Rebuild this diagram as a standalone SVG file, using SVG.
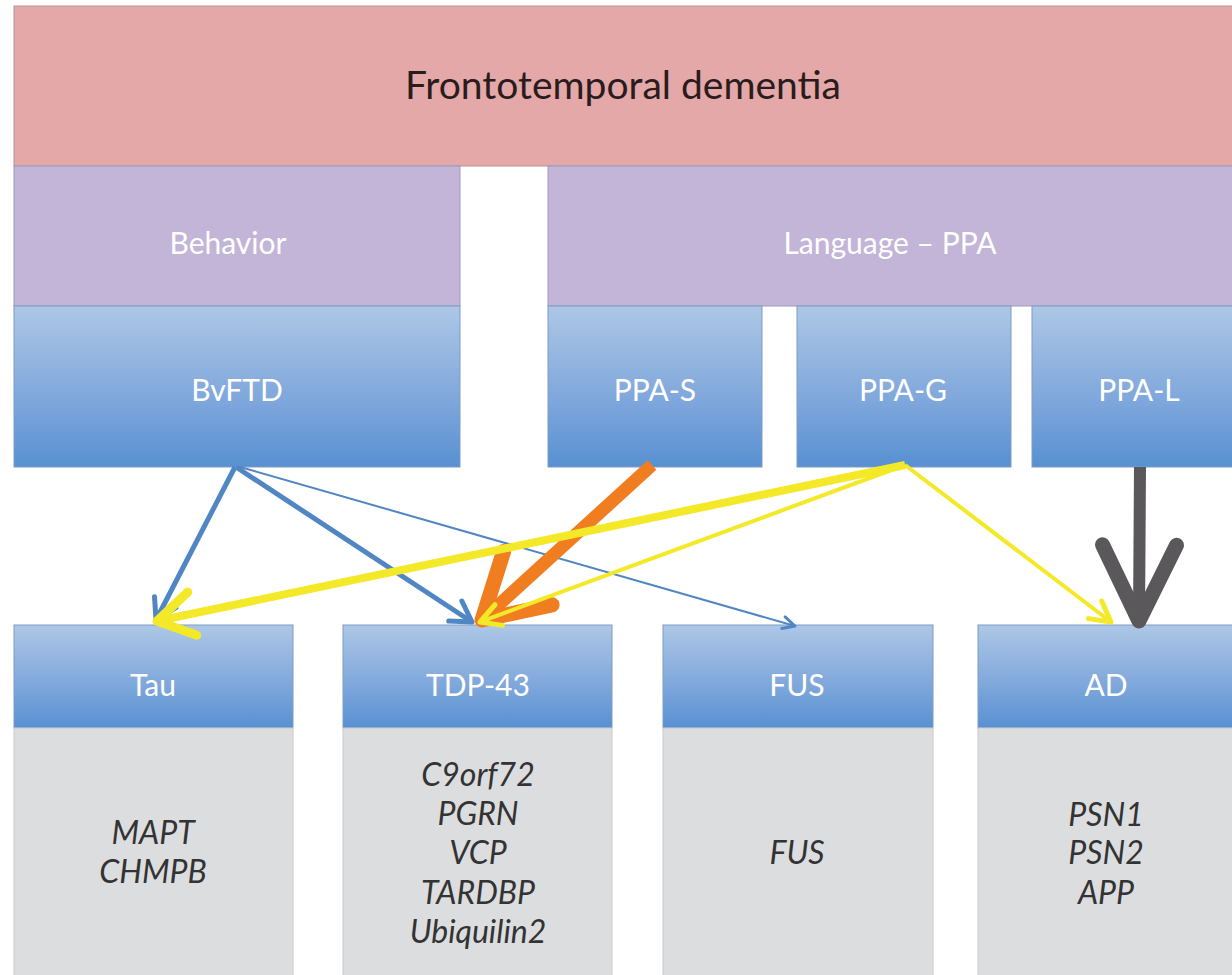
<svg xmlns="http://www.w3.org/2000/svg" width="1232" height="975" viewBox="0 0 1232 975">
<defs>
<linearGradient id="blueGrad" x1="0" y1="0" x2="0" y2="1">
<stop offset="0" stop-color="#ADC7E6"/>
<stop offset="0.55" stop-color="#82A9DC"/>
<stop offset="1" stop-color="#5890D2"/>
</linearGradient>
<marker id="mBlue" markerUnits="userSpaceOnUse" markerWidth="60" markerHeight="60" refX="0" refY="0" orient="auto" overflow="visible"><path d="M-20,-12 L0,0 L-20,12" fill="none" stroke="#4F86C3" stroke-width="5" stroke-linecap="round" stroke-linejoin="round"/></marker>
<marker id="mBlueS" markerUnits="userSpaceOnUse" markerWidth="60" markerHeight="60" refX="0" refY="0" orient="auto" overflow="visible"><path d="M-12,-6 L0,0 L-12,6" fill="none" stroke="#4F86C3" stroke-width="3" stroke-linecap="round" stroke-linejoin="round"/></marker>
<marker id="mOrange" markerUnits="userSpaceOnUse" markerWidth="60" markerHeight="60" refX="0" refY="0" orient="auto" overflow="visible"><path d="M-62,-36 L0,0 L-62,36" fill="none" stroke="#F07D1F" stroke-width="15" stroke-linecap="round" stroke-linejoin="round"/></marker>
<marker id="mYellow" markerUnits="userSpaceOnUse" markerWidth="60" markerHeight="60" refX="0" refY="0" orient="auto" overflow="visible"><path d="M-36,-22 L0,0 L-36,22" fill="none" stroke="#F4E928" stroke-width="9" stroke-linecap="round" stroke-linejoin="round"/></marker>
<marker id="mYellowS" markerUnits="userSpaceOnUse" markerWidth="60" markerHeight="60" refX="0" refY="0" orient="auto" overflow="visible"><path d="M-20,-11 L0,0 L-20,11" fill="none" stroke="#F4E928" stroke-width="5" stroke-linecap="round" stroke-linejoin="round"/></marker>
<marker id="mGray" markerUnits="userSpaceOnUse" markerWidth="60" markerHeight="60" refX="0" refY="0" orient="auto" overflow="visible"><path d="M-76,-37 L0,0 L-76,37" fill="none" stroke="#5A585B" stroke-width="15" stroke-linecap="round" stroke-linejoin="round"/></marker>
</defs>
<style>
.pink{fill:#E4A8A8;stroke:#B99494;stroke-width:1}
.purple{fill:#C3B5D7;stroke:#9C9BBE;stroke-width:1}
.blue{fill:url(#blueGrad);stroke:#7E9CC4;stroke-width:1}
.gray{fill:#DCDDDF;stroke:#C9CACC;stroke-width:1}
.title{font-family:Lato,"Liberation Sans",sans-serif;font-size:39px;fill:#2A1C1C;text-anchor:middle}
.lbl{font-family:Lato,"Liberation Sans",sans-serif;font-size:30px;fill:#FFFFFF;text-anchor:middle}
.gene{font-family:Lato,"Liberation Sans",sans-serif;font-size:32px;font-style:italic;fill:#333333;text-anchor:middle}
.conn{fill:none}
</style>
<rect width="1232" height="975" fill="#FFFFFF"/>
<g id="ftd"><rect class="pink" x="14" y="6" width="1230" height="160"/><text class="title" x="623" y="99">Frontotemporal dementia</text></g>
<g id="behavior"><rect class="purple" x="14" y="166" width="446" height="140"/><text class="lbl" x="228" y="254">Behavior</text></g>
<g id="language"><rect class="purple" x="548" y="166" width="690" height="140"/><text class="lbl" x="890" y="254">Language – PPA</text></g>
<g id="bvftd"><rect class="blue" x="14" y="306" width="446" height="161"/><text class="lbl" x="237" y="401">BvFTD</text></g>
<g id="ppas"><rect class="blue" x="548" y="306" width="214" height="161"/><text class="lbl" x="655" y="401">PPA-S</text></g>
<g id="ppag"><rect class="blue" x="797" y="306" width="214" height="161"/><text class="lbl" x="903" y="401">PPA-G</text></g>
<g id="ppal"><rect class="blue" x="1032" y="306" width="210" height="161"/><text class="lbl" x="1139" y="401">PPA-L</text></g>
<g id="tau"><rect class="blue" x="14" y="625" width="279" height="103"/><rect class="gray" x="14" y="728" width="279" height="260"/><text class="lbl" x="153" y="696">Tau</text><text class="gene" x="153" y="844">MAPT</text><text class="gene" x="153" y="883">CHMPB</text></g>
<g id="tdp43"><rect class="blue" x="343" y="625" width="269" height="103"/><rect class="gray" x="343" y="728" width="269" height="260"/><text class="lbl" x="478" y="696">TDP-43</text><text class="gene" x="478" y="786">C9orf72</text><text class="gene" x="478" y="825">PGRN</text><text class="gene" x="478" y="864">VCP</text><text class="gene" x="478" y="904">TARDBP</text><text class="gene" x="478" y="943">Ubiquilin2</text></g>
<g id="fus"><rect class="blue" x="663" y="625" width="270" height="103"/><rect class="gray" x="663" y="728" width="270" height="260"/><text class="lbl" x="797" y="696">FUS</text><text class="gene" x="797" y="864">FUS</text></g>
<g id="ad"><rect class="blue" x="978" y="625" width="264" height="103"/><rect class="gray" x="978" y="728" width="264" height="260"/><text class="lbl" x="1106" y="696">AD</text><text class="gene" x="1106" y="826">PSN1</text><text class="gene" x="1106" y="864">PSN2</text><text class="gene" x="1106" y="904">APP</text></g>
<g id="connectors" class="conn">
<line x1="235" y1="467" x2="156" y2="620" stroke="#4F86C3" stroke-width="5" marker-end="url(#mBlue)"/>
<line x1="236" y1="467" x2="472" y2="622" stroke="#4F86C3" stroke-width="5" marker-end="url(#mBlue)"/>
<line x1="240" y1="467" x2="795" y2="626" stroke="#4F86C3" stroke-width="2" marker-end="url(#mBlueS)"/>
<line x1="652" y1="465" x2="482" y2="620" stroke="#F07D1F" stroke-width="13" marker-end="url(#mOrange)"/>
<line x1="1140" y1="467" x2="1139" y2="621" stroke="#5A585B" stroke-width="12" marker-end="url(#mGray)"/>
<line x1="905" y1="465" x2="157" y2="621" stroke="#F4E928" stroke-width="8" marker-end="url(#mYellow)"/>
<line x1="905" y1="465" x2="480" y2="622" stroke="#F4E928" stroke-width="4" marker-end="url(#mYellowS)"/>
<line x1="905" y1="465" x2="1111" y2="622" stroke="#F4E928" stroke-width="4" marker-end="url(#mYellowS)"/>
</g>
</svg>
